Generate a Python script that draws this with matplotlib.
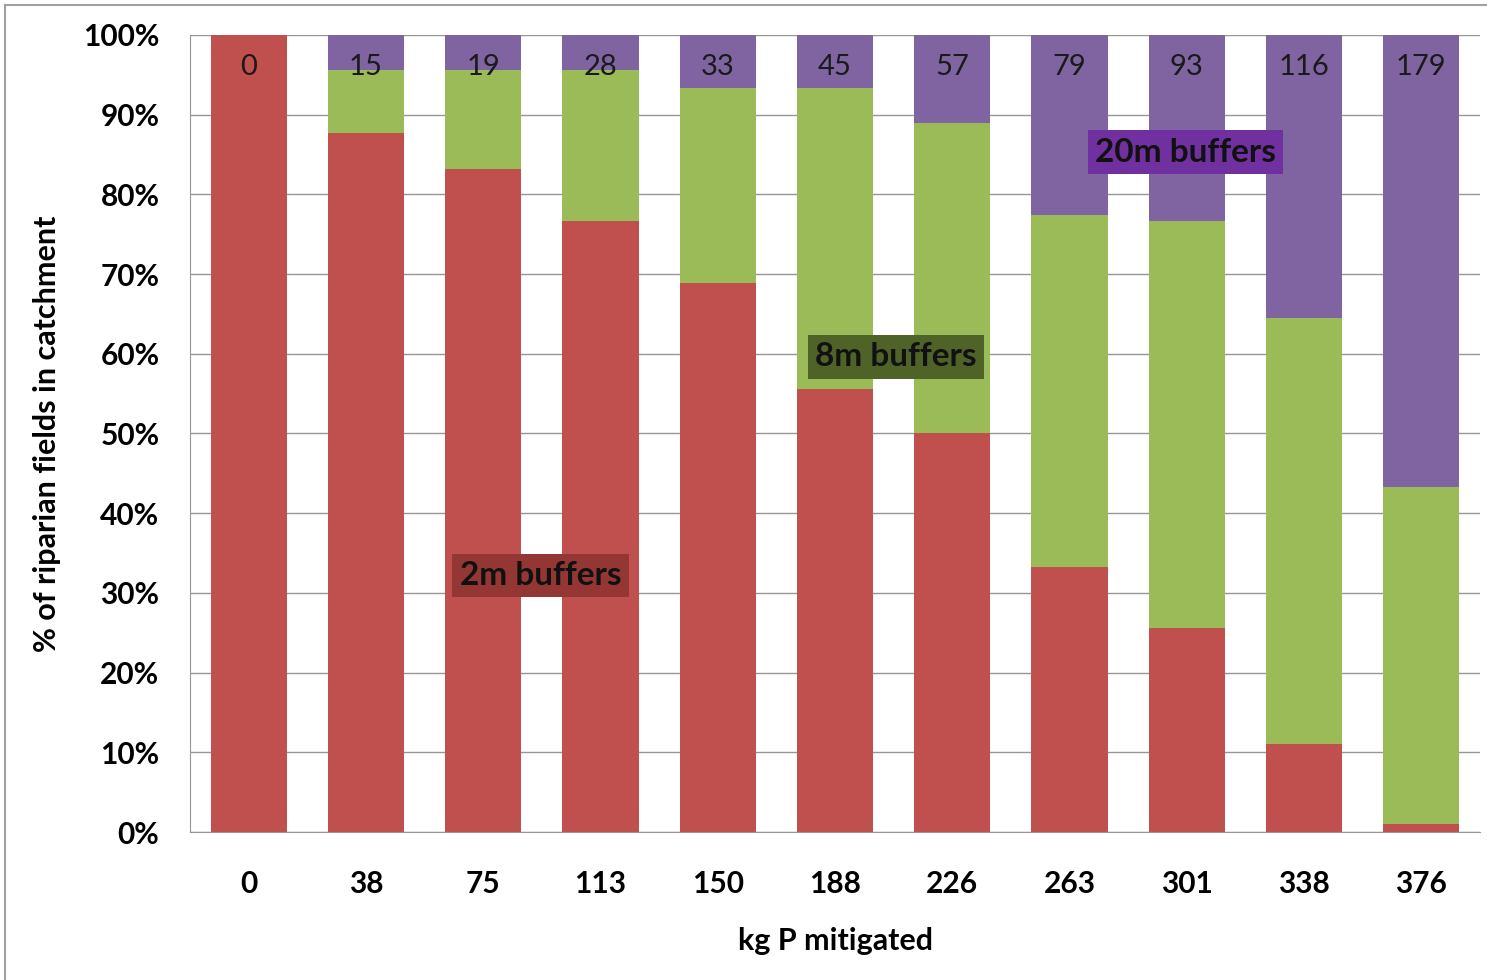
import matplotlib
matplotlib.use("Agg")
import matplotlib.pyplot as plt
from matplotlib.lines import Line2D
import numpy as np

# Phosphorus mitigated (kg P) for each scenario
kg_p = ["0", "38", "75", "113", "150", "188", "226", "263", "301", "338", "376"]
# Share of riparian fields (%) for each buffer width
share_2m = [100.0, 87.7, 83.2, 76.7, 68.9, 55.6, 50.0, 33.3, 25.6, 11.0, 1.0]
share_8m = [0.0, 7.9, 12.4, 18.9, 24.4, 37.7, 38.9, 44.1, 51.1, 53.5, 42.3]
share_20m = [0.0, 4.4, 4.4, 4.4, 6.7, 6.7, 11.1, 22.6, 23.3, 35.5, 56.7]
# Number of fields with 20m buffers, printed on top of each bar
n_20m = [0, 15, 19, 28, 33, 45, 57, 79, 93, 116, 179]

plt.rcParams["font.family"] = ["Lato", "DejaVu Sans"]

fig = plt.figure(figsize=(14.87, 9.8), dpi=100)
ax = fig.add_axes([190 / 1487, 148 / 980, 1290 / 1487, 797 / 980])

x = np.arange(len(kg_p))
w = 0.65
red, green, purple = "#C0504D", "#9BBB59", "#8064A2"
b2 = np.array(share_2m)
b8 = b2 + np.array(share_8m)
ax.bar(x, share_2m, w, color=red, zorder=2)
ax.bar(x, share_8m, w, bottom=b2, color=green, zorder=2)
ax.bar(x, share_20m, w, bottom=b8, color=purple, zorder=2)

for xi, n in zip(x, n_20m):
    ax.text(xi, 96.0, str(n), ha="center", va="center", fontsize=21,
            color="#1a1a1a", zorder=3)

box_kw = dict(ha="center", va="center", fontsize=24, fontweight="bold",
              color="#111111", zorder=4)
ax.text(2.49, 32.2, "2m buffers", bbox=dict(boxstyle="square,pad=0.22",
        fc="#943634", ec="none"), **box_kw)
ax.text(5.52, 59.6, "8m buffers", bbox=dict(boxstyle="square,pad=0.22",
        fc="#4F6228", ec="none"), **box_kw)
ax.text(7.99, 85.3, "20m buffers", bbox=dict(boxstyle="square,pad=0.22",
        fc="#7030A0", ec="none"), **box_kw)

ax.set_xlim(-0.5, len(kg_p) - 0.5)
ax.set_ylim(0, 100)
ax.set_yticks(np.arange(0, 101, 10))
ax.set_yticklabels([f"{v}%" for v in range(0, 101, 10)])
ax.set_xticks(x)
ax.set_xticklabels(kg_p)
ax.yaxis.grid(True, color="#969696", linewidth=1.0, zorder=0)
ax.set_axisbelow(True)
for s in ["top", "right"]:
    ax.spines[s].set_visible(False)
ax.spines["left"].set_color("#969696")
ax.spines["bottom"].set_color("#969696")
ax.tick_params(axis="both", length=0, labelsize=21.5)
ax.tick_params(axis="y", pad=22)
ax.tick_params(axis="x", pad=27)
for lbl in ax.get_xticklabels() + ax.get_yticklabels():
    lbl.set_fontweight("bold")

ax.set_xlabel("kg P mitigated", fontsize=22, fontweight="bold", labelpad=21)
ax.set_ylabel("% of riparian fields in catchment", fontsize=22,
              fontweight="bold", labelpad=16)

# slide frame lines
fig.add_artist(Line2D([5 / 1487, 5 / 1487], [0, 975 / 980], color="#a0a0a0",
                      linewidth=1.5, transform=fig.transFigure))
fig.add_artist(Line2D([5 / 1487, 1], [975 / 980, 975 / 980], color="#a0a0a0",
                      linewidth=1.5, transform=fig.transFigure))

fig.savefig("out.png", dpi=100)
